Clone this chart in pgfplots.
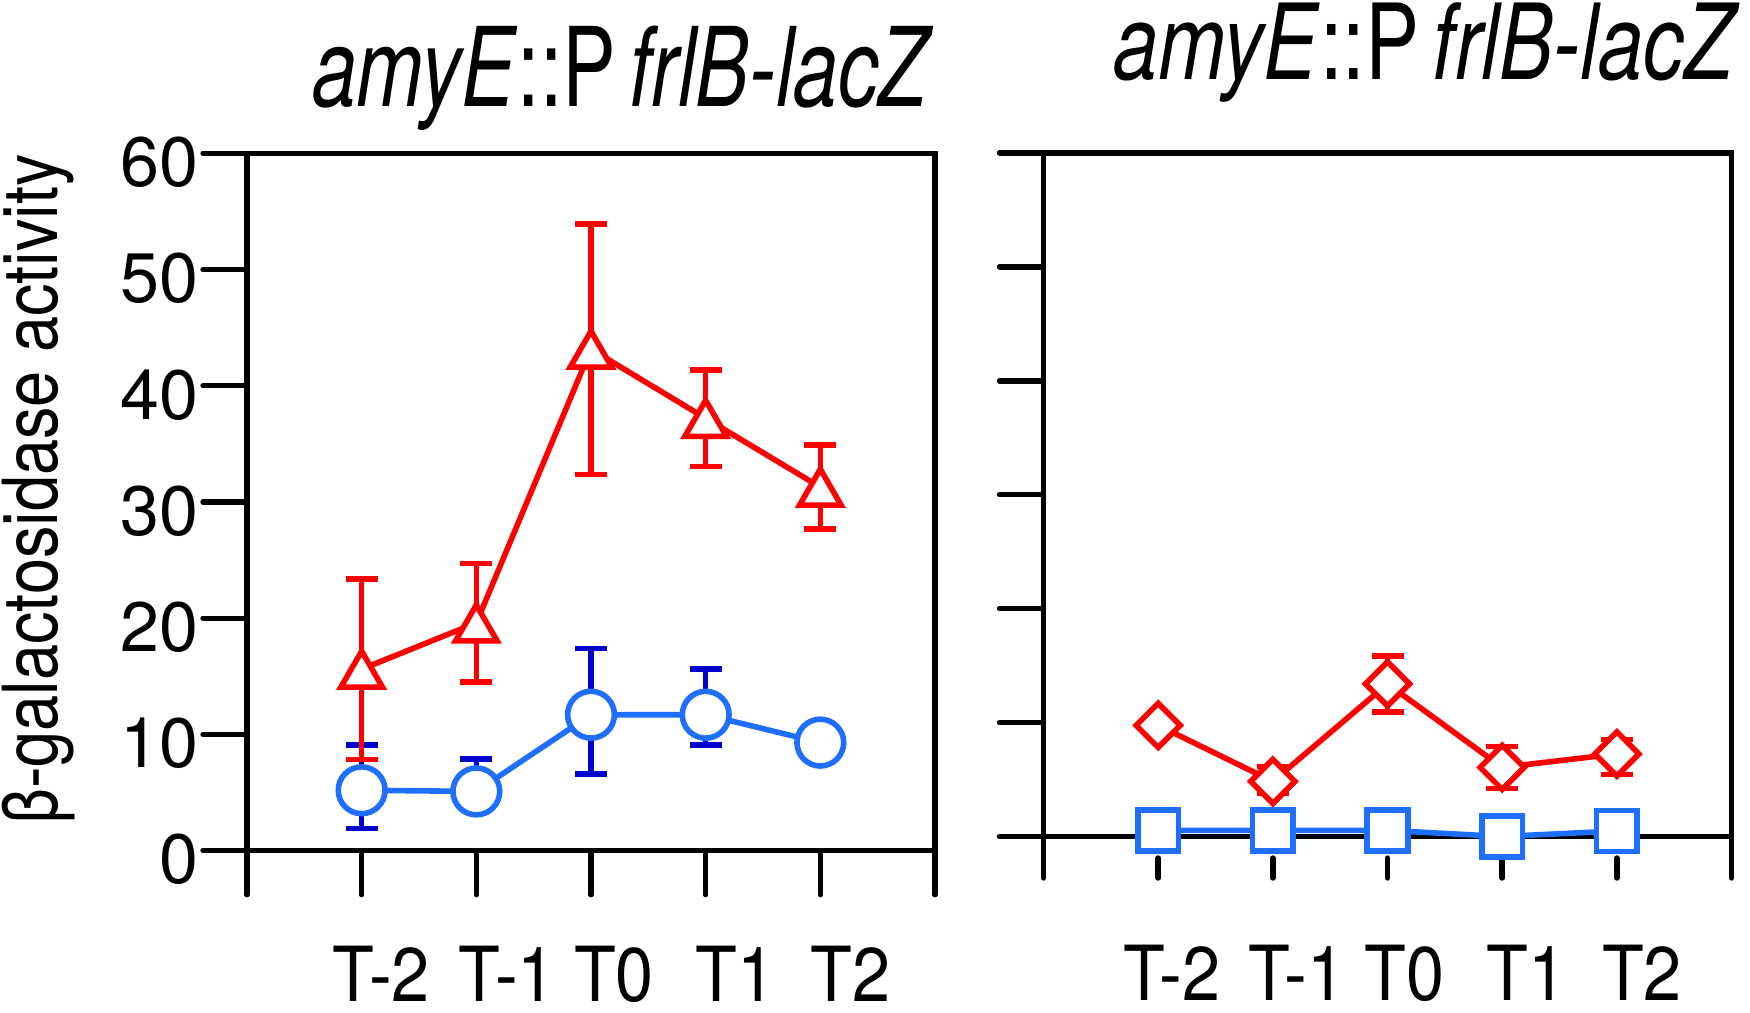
\documentclass[border=0pt]{standalone}
\usepackage{fontspec}
\setmainfont{TeX Gyre Heros}
\usepackage{graphicx}
\usepackage{pgfplots}
\usepackage{pgfplotstable}
\pgfplotsset{compat=1.18}

\definecolor{cred}{RGB}{255,0,0}
\definecolor{cblue}{RGB}{30,110,255}
\definecolor{cnavy}{RGB}{0,0,205}

% left panel: mean, error up, error down
\pgfplotstableread{
x  y      ep     em
1  5.2    3.87   3.3
2  5.1    2.8    1.2
3  11.7   5.7    5.1
4  11.7   3.94   2.6
5  9.3    0      0
}\leftblue
\pgfplotstableread{
x  y      ep     em
1  15.62  7.78   7.78
2  19.6   5.1    5.1
3  43.15  10.77  10.77
4  37.2   4.16   4.16
5  31.28  3.61   3.61
}\leftred
% right panel
\pgfplotstableread{
x  y
1  0.54
2  0.54
3  0.54
4  0
5  0.49
}\rightblue
\pgfplotstableread{
x  y      ep     em
1  9.76   0      0
2  4.84   1.29   1.0
3  13.4   2.46   2.46
4  6.07   1.84   1.84
5  7.25   1.26   1.79
}\rightred

\pgfplotsset{
  panel/.style={
    scale only axis,
    width=344pt,
    xmin=0, xmax=6, ymax=60,
    clip=false,
    axis line style={line width=2.7pt, line cap=round},
    every tick/.append style={line width=2.7pt, line cap=round, black},
    xtick pos=left, ytick pos=left,
    /pgf/number format/assume math mode=true,
    yticklabel style={font=\fontsize{35}{35}\selectfont, anchor=east, inner sep=0pt},
    extra x tick labels={T-2,T-1,T0,T1,T2},
    extra x tick style={
      major tick length=0pt,
      every tick/.append style={draw=none},
      xticklabel style={font=\fontsize{38}{38}\selectfont, xscale=0.9, anchor=base, inner sep=0pt},
    },
  },
  leftgeom/.style={panel, at={(123.5pt,80.65pt)}, anchor=south west, height=348.7pt, ymin=0},
  rightgeom/.style={panel, at={(521.75pt,67pt)}, anchor=south west, height=362.5pt, ymin=-3.64},
  errs/.style={
    error bars/y dir=both, error bars/y explicit,
    error bars/error bar style={#1, line width=2.8pt},
    error bars/error mark options={rotate=90, mark size=8pt, line width=2.8pt, #1},
  },
  dots/.style 2 args={only marks, mark options={draw=#1, fill=white, line width=2.8pt, #2}},
}

\begin{document}
\begin{tikzpicture}
\useasboundingbox (0,0) rectangle (875pt,506pt);

% left panel: lines and error bars underneath
\begin{axis}[leftgeom, hide axis]
\addplot[cblue, line width=2.8pt, no marks, errs=cnavy]
  table[x=x, y=y, y error plus=ep, y error minus=em] {\leftblue};
\addplot[cred, line width=2.8pt, no marks, errs=cred]
  table[x=x, y=y, y error plus=ep, y error minus=em] {\leftred};
\end{axis}
% left panel: frame, ticks and markers on top
\begin{axis}[leftgeom,
  tick align=outside, major tick length=22pt,
  xtick={0,...,6}, xticklabels={,,,,,,},
  ytick={0,10,...,60},
  yticklabel style={xshift=-2pt, yshift=-4.5pt},
  extra x ticks={1.17,2.27,3.20,4.26,5.26},
  extra x tick style={xticklabel style={yshift=-75.5pt}},
]
\addplot[cblue, dots={cblue}{}, mark=*, mark size=11.7pt] table[x=x, y=y] {\leftblue};
\addplot[cred, dots={cred}{yshift=-3pt}, mark=triangle*, mark size=12pt] table[x=x, y=y] {\leftred};
\end{axis}

% right panel: frame, zero line, lines and error bars underneath
\begin{axis}[rightgeom, hide axis]
\draw[line width=2.7pt, line cap=round] (rel axis cs:0,0) -- (rel axis cs:0,1) -- (rel axis cs:1,1) -- (rel axis cs:1,0);
\draw[line width=2.7pt] (axis cs:0,0) -- (axis cs:6,0);
\addplot[cblue, line width=2.8pt, no marks] table[x=x, y=y] {\rightblue};
\addplot[cred, line width=2.8pt, no marks, errs=cred]
  table[x=x, y=y, y error plus=ep, y error minus=em] {\rightred};
\end{axis}
% right panel: ticks and markers on top
\begin{axis}[rightgeom,
  axis line style={draw=none},
  tick align=inside, major tick length=10pt,
  xtick={1,...,5}, xticklabels={,,,,},
  ytick=\empty,
  extra y ticks={0,10,...,60}, extra y tick labels={,,,,,,},
  extra y tick style={tick align=outside, major tick length=22pt},
  extra x ticks={1.12,2.21,3.15,4.21,5.22},
  extra x tick style={xticklabel style={yshift=-61.3pt}},
]
\addplot[cblue, dots={cblue}{}, mark=square*, mark size=10.2pt] table[x=x, y=y] {\rightblue};
\addplot[cred, dots={cred}{rotate=45}, mark=square*, mark size=7.8pt] table[x=x, y=y] {\rightred};
\end{axis}

% titles and y label
\node[anchor=base] at (311.5pt,452.5pt)
  {\fontsize{55}{60}\selectfont\scalebox{0.73}[1]{\textit{amyE}::P\,\textit{frlB-lacZ}}};
\node[anchor=base] at (713.25pt,466pt)
  {\fontsize{52.5}{60}\selectfont\scalebox{0.77}[1]{\textit{amyE}::P\,\textit{frlB-lacZ}}};
\node[rotate=90, anchor=base] at (28.5pt,261.25pt)
  {\fontsize{38}{40}\selectfont\scalebox{0.855}[1]{β-galactosidase activity}};
\end{tikzpicture}
\end{document}
